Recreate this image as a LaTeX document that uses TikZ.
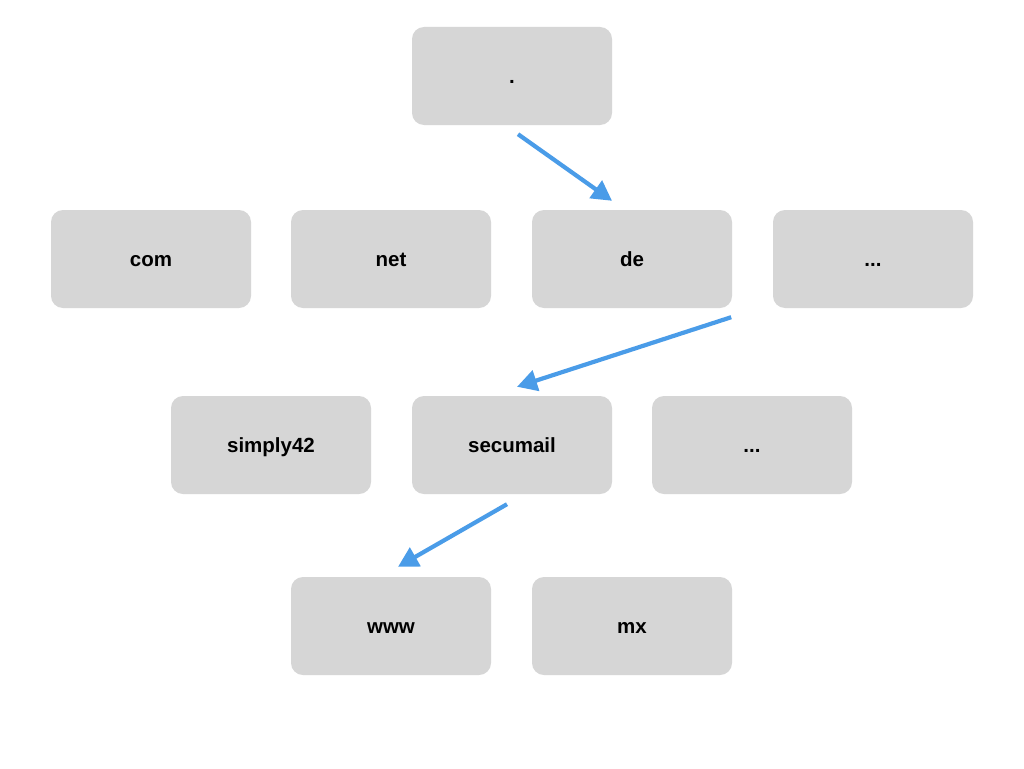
\documentclass[tikz,border=0pt]{standalone}
\usepackage{fontspec}
\setmainfont{Liberation Sans}
\usetikzlibrary{arrows.meta,calc}
\definecolor{boxgray}{HTML}{D6D6D6}
\definecolor{arrowblue}{HTML}{4A9CE8}
\begin{document}
\begin{tikzpicture}[x=1pt,y=-1pt,
  zone/.style={fill=boxgray,draw=none,rounded corners=12pt,minimum width=200pt,minimum height=98pt,inner sep=0pt,
    text height=16pt,text depth=2pt,
    font=\fontsize{20.5}{24}\selectfont\bfseries,text=black},
  link/.style={draw=arrowblue,line width=4.2pt,-{Triangle[length=20pt,width=21pt]}}]
\useasboundingbox (0,0) rectangle (1024,768);
\fill[white] (0,0) rectangle (1024,768);
\node[zone] (root) at (512,76) {.};
\node[zone] (com) at (151,259) {com};
\node[zone] (net) at (391,259) {net};
\node[zone] (de) at (632,259) {de};
\node[zone] (tld) at (873,259) {...};
\node[zone] (simply) at (271,445) {simply42};
\node[zone] (secu) at (512,445) {secumail};
\node[zone] (sld) at (752,445) {...};
\node[zone] (www) at (391,626) {www};
\node[zone] (mx) at (632,626) {mx};
\coordinate (a1s) at ($(root.south)+(6,9)$);
\coordinate (a1e) at ($(de.north)+(-20,-9)$);
\coordinate (a2s) at ($(de.south east)+(-1,9)$);
\coordinate (a2e) at ($(secu.north)+(5,-9)$);
\coordinate (a3s) at ($(secu.south)+(-5,10)$);
\coordinate (a3e) at ($(www.north)+(7,-10)$);
\draw[link] (a1s) -- (a1e);
\draw[link] (a2s) -- (a2e);
\draw[link] (a3s) -- (a3e);
\end{tikzpicture}
\end{document}
